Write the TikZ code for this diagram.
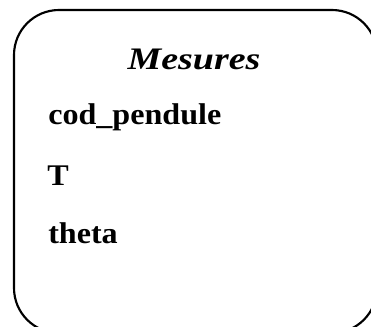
\documentclass[tikz,border=0pt]{standalone}
\usepackage{fontspec}
\setmainfont{Liberation Serif}
\begin{document}
\begin{tikzpicture}[x=0.75pt,y=-0.75pt,
  frame/.style={draw=black,line width=1.6pt,rounded corners=33.75pt},
  title/.style={font=\fontsize{23.5}{26}\selectfont\bfseries\itshape,inner sep=0pt},
  item/.style={font=\fontsize{22.5}{26}\selectfont\bfseries,inner sep=0pt,anchor=base west}]
\useasboundingbox (0,0) rectangle (371,326);
\clip (0,0) rectangle (371,326);
\draw[frame] (14,10) rectangle (377,333);
\node[title,anchor=base] (t) at (194,69) {\scalebox{1.21}[1]{Mesures}};
\node[item] (a) at (48,124) {\scalebox{1.07}[1]{cod\_pendule}};
\node[item] (b) at (47,185) {\scalebox{1.07}[1]{T}};
\node[item] (c) at (48,243) {\scalebox{1.07}[1]{theta}};
\end{tikzpicture}
\end{document}
